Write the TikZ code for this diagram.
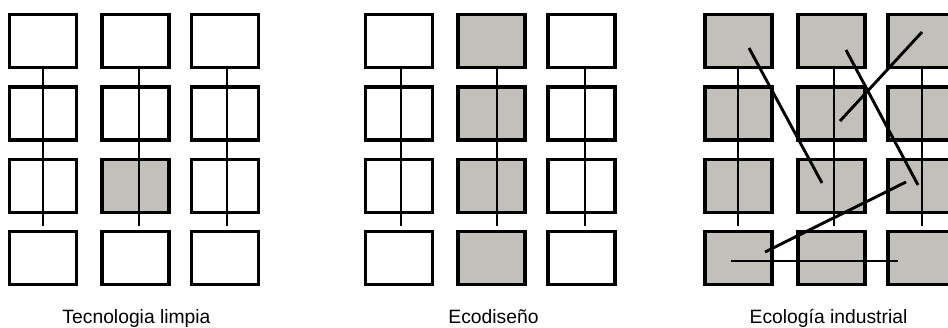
\documentclass[tikz,border=0pt]{standalone}
\usepackage{fontspec}
\setmainfont{Liberation Sans}
\definecolor{shade}{RGB}{194,192,187}
\begin{document}
\begin{tikzpicture}[x=1pt,y=-1pt,
  cell/.style={draw=black, line width=3.2pt, fill=white, minimum width=67pt, minimum height=53pt, inner sep=0pt},
  filled/.style={cell, fill=shade},
  link/.style={line width=2.9pt, draw=black},
  caption/.style={font=\fontsize{19.3}{22}\selectfont, anchor=base, inner sep=0pt}]
\useasboundingbox (0,0) rectangle (948,327);
\clip (0,0) rectangle (948,327);
% group 1: Tecnologia limpia
\foreach \c/\x in {1/43,2/135.5,3/225}{
  \foreach \r/\y in {1/41,2/113.5,3/186,4/258}{
    \ifnum\c\r=23 \def\st{filled}\else\def\st{cell}\fi
    \node[\st] (a\r\c) at (\x,\y) {};
  }
}
\foreach \c/\d in {1/0,2/3.5,3/2}
  \draw[link] ([xshift=\d pt]a1\c.south) -- ([xshift=\d pt,yshift=-12pt]a3\c.south);
% group 2: Ecodiseno
\foreach \c/\x in {1/399,2/491.5,3/581.5}{
  \foreach \r/\y in {1/41,2/113.5,3/186,4/258}{
    \ifnum\c=2 \def\st{filled}\else\def\st{cell}\fi
    \node[\st] (b\r\c) at (\x,\y) {};
  }
}
\foreach \c/\d in {1/2,2/5.5,3/3.5}
  \draw[link] ([xshift=\d pt]b1\c.south) -- ([xshift=\d pt,yshift=-12pt]b3\c.south);
% group 3: Ecologia industrial
\foreach \c/\x in {1/738.5,2/831.5,3/921.5}{
  \foreach \r/\y in {1/41,2/113.5,3/186,4/258}{
    \node[filled] (c\r\c) at (\x,\y) {};
  }
}
\foreach \c/\d in {1/-0.5,2/2.5,3/0.5}
  \draw[link] ([xshift=\d pt]c1\c.south) -- ([xshift=\d pt,yshift=-12pt]c3\c.south);
\coordinate (p1) at (749,48);
\coordinate (p2) at (822,183);
\coordinate (p3) at (846,50);
\coordinate (p4) at (918,185);
\coordinate (p5) at (922,32);
\coordinate (p6) at (840,121);
\coordinate (p7) at (906,182);
\coordinate (p8) at (765,252);
\coordinate (p9) at (731,261);
\coordinate (p10) at (898,261);
\draw[link] (p1) -- (p2);
\draw[link] (p3) -- (p4);
\draw[link] (p5) -- (p6);
\draw[link] (p7) -- (p8);
\draw[link] (p9) -- (p10);
% captions
\node[caption] (t1) at (136.5,323) {Tecnologia limpia};
\node[caption] (t2) at (493.5,323) {Ecodiseño};
\node[caption] (t3) at (828.5,323) {Ecología industrial};
\end{tikzpicture}
\end{document}
